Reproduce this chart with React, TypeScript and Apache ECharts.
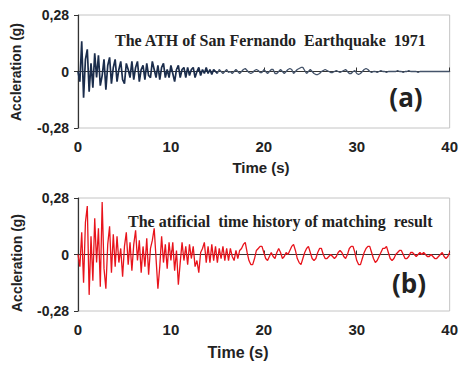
import React, { useEffect, useRef } from "react";
import * as echarts from "echarts";

// sample interval of both records (s)
const DT = 0.2;
const X_TICKS = [0, 10, 20, 30, 40];
const Y_TICKS = [-0.28, 0, 0.28];

// (a) recorded ATH, San Fernando 1971 — acceleration in hundredths of g, one value every 0.2 s
const accA = [
  0, -5, 15, -13, 6, 11, -10, 4, -8, 9,
  -3, 8, -7, -2, 6, -9, 3, 7, -6, 2,
  6, -5, 1, 5, -4, -6, 4, 1, -3, 5,
  -4, 2, 5, -5, 1, 3, -4, 4, -2, -3,
  5, 1, -3, 3, -4, 2, 4, -3, 1, -3,
  3, -1, -5, 1, 3, -3, 1, 2, -3, 2,
  -2, 1, 2, -3, 0, 2, -2, 1, -1, 2,
  -1, 1, -1.5, 1, 0, -1, 1, 0, -1, 0,
  1, -0.5, 0, -1, 0, 1, 0, -1, 0, 1,
  1.5, 0.5, -0.5, -1, -0.5, 0.5, 1, 0.5, -0.5, -0.5,
  1, 0, -1, 0, 1, 1, -1, -1, 0, 1,
  0, -1, 0, 1, 1.5, 1, -1, 0, 1, 1.5,
  2, 2, 0.5, -1, 0, 1, 0, -1, -1.5, -1.5,
  -1, 0, 0.5, 1, 0.5, 0, -0.5, -0.5, 0, 0.5,
  0, -0.5, 0, 0.5, 1, 0, -1, -1, 0, 0.5,
  -1, -1.5, -1, 0, 1, 1.5, 1, 0, -0.5, 0,
  0, -0.5, 0, 0.5, 0, 0, -0.5, 0, 0, 0,
  0, 0, 0.5, 0, 0, -0.5, 0, 0, 0.5, 0,
  0, 0, 0, -0.5, 0, 0, 0, 0, 0, 0,
  0, 0, 0, 0, 0, 0, 0, 0, 0, 0,
  0,
];

// (b) artificial time history of matching result — hundredths of g, one value every 0.2 s
const accB = [
  0, -6, 11, -14, 16, 24, -20, 9, -13, 18,
  -4, 13, -16, 26, -7, -17, 5, 14, -9, 10,
  -6, 9, -4, 3, -11, 4, 11, -5, 6, -8,
  5, 12, -3, 7, -9, 4, -6, 8, -10, 3,
  7, 13, -2, -17, -6, 9, -4, 5, -7, 6,
  -3, 6, -8, 2, -15, -4, 6, -3, 4, -5,
  5, -2, 4, -6, -3, -9, 1, 3, 6, -4,
  4, -4, 5, -3, 4, -4, 3, -2, 4, -3,
  3, -3, 3, -1, -3, 2, -2, 2, 3, 5,
  6, 1, -3, -5, -5, -2, 2, 3, 4, 4,
  1, -2, -3, -1, 1, -1, -2, 1, 3, 1,
  -2, -1, 1, 0, 2, 4, 5, 2, -2, -4,
  -5, -2, 1, 3, 4, 1, -2, -3, -2, 1,
  3, 3, 0, -2, -2, -1, 0, -1, -2, -1,
  1, 2, 1, -1, -2, 0, 3, 4, 4, 1,
  -3, -5, -5, -2, 1, 3, 4, 4, 1, -2,
  -4, -3, -1, 1, 3, 3, 4, 1, -2, -3,
  -2, 0, 1, 2, 2, 0, -2, -2, -1, 1,
  1, 0, -1, 0, 1, 0, 1, 0, -1, -1,
  0, -1, -2, -2, -1, 0, 1, -1, -2, -1,
  1,
];

// index where the strong-motion part of record (a) ends (t = 15 s)
const STRONG_END = 75;

const TITLE_A = "The ATH of San Fernando  Earthquake  1971";
const TITLE_B = "The atificial  time history of matching  result";
const X_NAME = "Time (s)";
const Y_NAME = "Accleration (g)";

const toPairs = (arr: number[], offset = 0) =>
  arr.map((v, i) => [Number(((i + offset) * DT).toFixed(1)), v / 100]);

const fmtY = (v: number) => (Math.abs(v) < 1e-9 ? "0" : v.toFixed(2).replace(".", ","));

export default function App() {
  const ref = useRef<HTMLDivElement>(null);
  useEffect(() => {
    if (!ref.current) return;
    const chart = echarts.init(ref.current, null, { renderer: "svg" });
    const labelStyle = {
      color: "#222",
      fontWeight: "bold" as const,
      fontFamily: "Liberation Sans, Arial, sans-serif",
      fontSize: 15,
    };
    const xAxis = (gi: number) => ({
      type: "value",
      gridIndex: gi,
      min: X_TICKS[0],
      max: X_TICKS[X_TICKS.length - 1],
      interval: 10,
      splitLine: { show: false },
      axisLine: { lineStyle: { color: "#333", width: 1.2 } },
      axisTick: { show: true, inside: true, length: 4, lineStyle: { color: "#333" } },
      axisLabel: { ...labelStyle, margin: 11 },
    });
    const yAxis = (gi: number) => ({
      type: "value",
      gridIndex: gi,
      min: Y_TICKS[0],
      max: Y_TICKS[Y_TICKS.length - 1],
      interval: 0.28,
      splitLine: { show: false },
      axisLine: { show: true, onZero: false, lineStyle: { color: "#333", width: 1.2 } },
      axisTick: { show: true, length: 4, lineStyle: { color: "#333" } },
      axisLabel: { ...labelStyle, fontSize: 14, margin: 9, formatter: fmtY },
    });
    const gridStyle = { show: true, borderColor: "#c4c4c4", borderWidth: 1, backgroundColor: "#fff" };
    const textStyle = (text: string, font: string, align = "center") => ({
      text,
      font,
      fill: "#222",
      align,
      verticalAlign: "middle",
    });
    chart.setOption({
      animation: false,
      backgroundColor: "#fff",
      grid: [
        { left: 78, top: 15, width: 374, height: 113, ...gridStyle },
        { left: 78, top: 198, width: 374, height: 113, ...gridStyle },
      ],
      xAxis: [xAxis(0), xAxis(1)],
      yAxis: [yAxis(0), yAxis(1)],
      series: [
        {
          type: "line",
          xAxisIndex: 0,
          yAxisIndex: 0,
          data: toPairs(accA.slice(0, STRONG_END + 1)),
          showSymbol: false,
          symbol: "none",
          lineStyle: { color: "#1b2d4c", width: 1.7 },
          z: 4,
        },
        {
          type: "line",
          xAxisIndex: 0,
          yAxisIndex: 0,
          data: toPairs(accA.slice(STRONG_END), STRONG_END),
          showSymbol: false,
          symbol: "none",
          lineStyle: { color: "#44536a", width: 1.3 },
          z: 3,
        },
        {
          type: "line",
          xAxisIndex: 1,
          yAxisIndex: 1,
          data: toPairs(accB),
          showSymbol: false,
          symbol: "none",
          lineStyle: { color: "#e8141c", width: 1.3 },
          z: 3,
        },
      ],
      graphic: [
        {
          type: "text",
          x: 115,
          y: 40,
          z: 10,
          style: textStyle(TITLE_A, "bold 16px 'Liberation Serif', 'Times New Roman', serif", "left"),
        },
        {
          type: "text",
          x: 128,
          y: 221,
          z: 10,
          style: textStyle(TITLE_B, "bold 16px 'Liberation Serif', 'Times New Roman', serif", "left"),
        },
        {
          type: "text",
          x: 406,
          y: 97,
          z: 10,
          style: textStyle("(a)", "bold 26px 'Open Sans', 'Liberation Sans', Arial, sans-serif"),
        },
        {
          type: "text",
          x: 409,
          y: 283,
          z: 10,
          style: textStyle("(b)", "bold 26px 'Open Sans', 'Liberation Sans', Arial, sans-serif"),
        },
        {
          type: "text",
          x: 261,
          y: 167,
          style: textStyle(X_NAME, "bold 15px 'Liberation Sans', Arial, sans-serif"),
        },
        {
          type: "text",
          x: 238,
          y: 352,
          style: textStyle(X_NAME, "bold 16px 'Liberation Sans', Arial, sans-serif"),
        },
        {
          type: "text",
          x: 16,
          y: 72,
          rotation: Math.PI / 2,
          style: textStyle(Y_NAME, "bold 14px 'Liberation Sans', Arial, sans-serif"),
        },
        {
          type: "text",
          x: 17,
          y: 263,
          rotation: Math.PI / 2,
          style: textStyle(Y_NAME, "bold 14px 'Liberation Sans', Arial, sans-serif"),
        },
      ],
    });
    return () => chart.dispose();
  }, []);
  return (
    <div
      ref={ref}
      style={{ position: "fixed", left: 0, top: 0, width: 461, height: 367, background: "#fff" }}
    />
  );
}
